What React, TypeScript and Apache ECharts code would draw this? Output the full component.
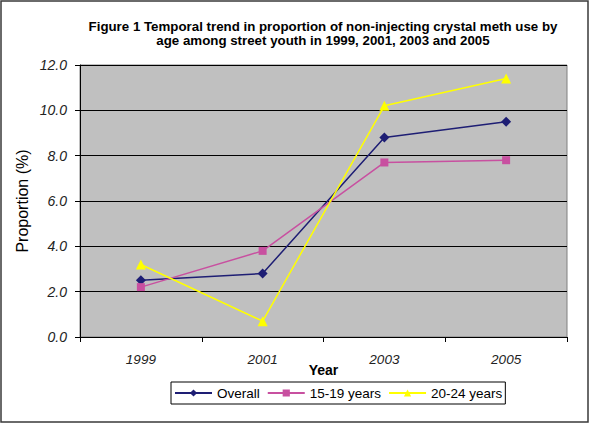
import React, { useEffect, useRef } from "react";
import * as echarts from "echarts";

const years = ["1999", "2001", "2003", "2005"];
const overall = [2.5, 2.8, 8.8, 9.5];
const age15to19 = [2.2, 3.8, 7.7, 7.8];
const age20to24 = [3.2, 0.7, 10.2, 11.4];
const yTicks = { min: 0, max: 12, interval: 2 };

const FONT = "Liberation Sans, Arial, sans-serif";

export default function App() {
  const ref = useRef<HTMLDivElement>(null);
  useEffect(() => {
    document.body.style.margin = "0";
    const chart = echarts.init(ref.current!, undefined, { renderer: "svg" });
    chart.setOption({
      animation: false,
      backgroundColor: "#ffffff",
      textStyle: { fontFamily: FONT },
      title: {
        text:
          "Figure 1 Temporal trend in proportion of non-injecting crystal meth use by\nage among street youth in 1999, 2001, 2003 and 2005",
        left: 323,
        top: 19,
        padding: 0,
        textAlign: "center",
        textStyle: {
          fontFamily: FONT,
          fontSize: 13.3,
          fontWeight: "bold",
          color: "#000",
          lineHeight: 14,
        },
      },
      graphic: [
        {
          type: "rect",
          shape: { x: 1, y: 1, width: 587, height: 421 },
          style: { fill: "none", stroke: "#3a3a3a", lineWidth: 1.5 },
          silent: true,
        },
      ],
      legend: {
        left: 171,
        top: 382,
        padding: [4, 3],
        itemGap: 7,
        itemWidth: 37,
        itemHeight: 9,
        borderColor: "#000",
        borderWidth: 1,
        textStyle: { fontFamily: FONT, fontSize: 13.5, color: "#000" },
        data: ["Overall", "15-19 years", "20-24 years"],
      },
      grid: {
        left: 80,
        right: 23,
        top: 65,
        bottom: 87,
        show: true,
        backgroundColor: "#C0C0C0",
        borderColor: "#808080",
        borderWidth: 1,
      },
      xAxis: {
        type: "category",
        data: years,
        boundaryGap: true,
        name: "Year",
        nameLocation: "middle",
        nameGap: 26,
        nameMoveOverlap: false,
        nameTextStyle: { fontFamily: FONT, fontSize: 14, fontWeight: "bold", color: "#000" },
        axisLine: { lineStyle: { color: "#000", width: 1 } },
        axisTick: { show: true, length: 5, alignWithLabel: false, lineStyle: { color: "#000" } },
        axisLabel: {
          margin: 15,
          fontFamily: FONT,
          fontSize: 13.5,
          fontStyle: "italic",
          color: "#222",
        },
      },
      yAxis: {
        type: "value",
        min: yTicks.min,
        max: yTicks.max,
        interval: yTicks.interval,
        name: "Proportion (%)",
        nameLocation: "middle",
        nameGap: 50,
        nameMoveOverlap: false,
        nameTextStyle: { fontFamily: FONT, fontSize: 16, color: "#000" },
        axisLine: { show: true, lineStyle: { color: "#000", width: 1 } },
        axisTick: { show: true, length: 5, lineStyle: { color: "#000" } },
        axisLabel: {
          margin: 13,
          fontFamily: FONT,
          fontSize: 14,
          fontStyle: "italic",
          color: "#222",
          formatter: (v: number) => v.toFixed(1),
        },
        splitLine: { show: true, lineStyle: { color: "#000", width: 1 } },
      },
      series: [
        {
          name: "Overall",
          type: "line",
          data: overall,
          symbol: "diamond",
          symbolSize: 10,
          itemStyle: { color: "#1E1E74" },
          lineStyle: { color: "#1E1E74", width: 1.5 },
        },
        {
          name: "15-19 years",
          type: "line",
          data: age15to19,
          symbol: "rect",
          symbolSize: 8,
          itemStyle: { color: "#C850A0" },
          lineStyle: { color: "#C850A0", width: 1.5 },
        },
        {
          name: "20-24 years",
          type: "line",
          data: age20to24,
          symbol: "triangle",
          symbolSize: 10,
          itemStyle: { color: "#FFFF00" },
          lineStyle: { color: "#FFFF00", width: 1.5 },
        },
      ],
    });
    return () => chart.dispose();
  }, []);
  return (
    <div
      ref={ref}
      style={{ position: "fixed", left: 0, top: 0, width: 590, height: 424 }}
    />
  );
}
